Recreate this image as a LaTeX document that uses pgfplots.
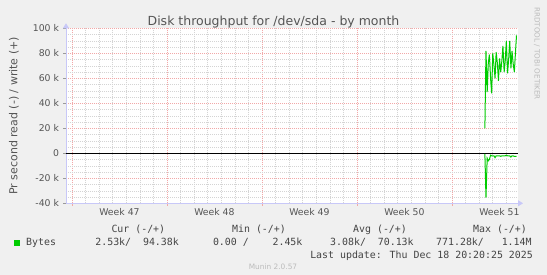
\documentclass[border=0pt]{standalone}
\usepackage{pgfplots}
\pgfplotsset{compat=1.18}
\usepackage{fontspec}
\setmainfont{DejaVu Sans}
\newfontfamily\mono{DejaVu Sans Mono}
\usetikzlibrary{arrows.meta}
\definecolor{bg}{HTML}{F0F0F0}
\definecolor{txt}{HTML}{555555}
\definecolor{ltxt}{HTML}{444444}
\definecolor{mgrid}{HTML}{F2A8A8}
\definecolor{mingrid}{HTML}{D4D4D4}
\definecolor{axiscol}{HTML}{C8C8F8}
\definecolor{munin}{HTML}{00CC00}
\definecolor{wm}{HTML}{BBBBBB}
\begin{document}
\begin{tikzpicture}[x=1pt,y=1pt]
\fill[bg] (0,0) rectangle (547,275);
\begin{axis}[
  at={(66pt,71.7pt)}, anchor=south west,
  scale only axis, width=452pt, height=175pt,
  xmin=-0.44, xmax=32.87, ymin=-40, ymax=100,
  axis background/.style={fill=white},
  axis x line=bottom, axis y line=left,
  axis line style={draw=axiscol, line width=0.8pt, shorten >=-5pt, -{Triangle[length=5pt,width=6pt]}},
  xtick={0,7,14,21,28}, xticklabels={},
  minor xtick={1,2,3,4,5,6,8,9,10,11,12,13,15,16,17,18,19,20,22,23,24,25,26,27,29,30,31,32},
  extra x ticks={3.5,10.5,17.5,24.5,31.5},
  extra x tick labels={Week 47,Week 48,Week 49,Week 50,Week 51},
  extra x tick style={grid=none, major tick length=0pt, xticklabel style={yshift=-2pt}},
  ytick={-40,-20,0,20,40,60,80,100},
  yticklabels={-40 k,-20 k,0,20 k,40 k,60 k,80 k,100 k},
  minor y tick num=3,
  grid=both,
  major grid style={draw=mgrid, dash pattern=on 1pt off 1pt, line width=0.5pt},
  minor grid style={draw=mingrid, dash pattern=on 1pt off 1pt, line width=0.5pt},
  tick align=outside, major tick length=2.5pt, minor tick length=0pt,
  xtick style={draw=mgrid, line width=0.6pt},
  ytick style={draw=txt!60, line width=0.6pt},
  tick label style={font=\fontsize{9.3}{10}\selectfont, text=txt},
  yticklabel style={xshift=-1pt},
  ylabel={Pr second read (-) / write (+)},
  ylabel style={font=\fontsize{11}{12}\selectfont, text=txt, at={(axis description cs:-0.115,0.5)}, anchor=center},
  no markers,
]
\addplot[draw=black, line width=1pt] coordinates {(-0.44,0) (32.87,0)};
\addplot[draw=munin, line width=1pt] coordinates {
(30.43,20) (30.51,82) (30.60,49) (30.68,72) (30.76,79) (30.85,60) (30.93,48)
(31.01,80) (31.10,70) (31.18,60) (31.26,81) (31.35,72) (31.43,58) (31.51,76)
(31.60,65) (31.68,74) (31.76,86) (31.85,65) (31.93,74) (32.01,90) (32.10,64)
(32.18,75) (32.26,90) (32.35,68) (32.43,82) (32.51,72) (32.60,65) (32.68,80)
(32.76,94.38)};
\addplot[draw=munin, line width=1pt] coordinates {
(30.43,-0.5) (30.51,-35.5) (30.60,-4) (30.68,-6) (30.76,-5) (30.85,-1.5) (30.93,-2)
(31.01,-2) (31.10,-2) (31.18,-3.5) (31.26,-2) (31.35,-2) (31.43,-2) (31.51,-2)
(31.60,-2.5) (31.68,-2) (31.76,-2) (31.85,-2) (31.93,-2) (32.01,-1.5) (32.10,-2)
(32.18,-2) (32.26,-2) (32.35,-3) (32.43,-2) (32.51,-2) (32.60,-2.5) (32.68,-2.5)
(32.76,-2.53)};
\end{axis}
\node[anchor=base, font=\fontsize{12.5}{14}\selectfont, text=txt] at (273.5,249) {Disk throughput for /dev/sda - by month};
\node[rotate=-90, anchor=center, font=\fontsize{7.2}{8}\selectfont, text=wm] at (537,221.5) {RRDTOOL / TOBI OETIKER};
\begin{scope}[every node/.style={inner sep=0pt, font=\mono\fontsize{9.9}{11}\selectfont, text=ltxt}]
\node[anchor=base west] at (111.3,42.7) {Cur~(-/+)};
\node[anchor=base west] at (232,42.7) {Min~(-/+)};
\node[anchor=base west] at (353,42.7) {Avg~(-/+)};
\node[anchor=base west] at (473,42.7) {Max~(-/+)};
\node[anchor=base west] at (14,29.2) {\textcolor{munin}{\rule{5.5pt}{5.5pt}}};
\node[anchor=base west] at (26,29.2) {Bytes};
\node[anchor=base west] at (95.2,29.2) {2.53k/~~94.38k};
\node[anchor=base west] at (212.8,29.2) {0.00~/~~~~2.45k};
\node[anchor=base west] at (330,29.2) {3.08k/~~70.13k};
\node[anchor=base west] at (436,29.2) {771.28k/~~~1.14M};
\node[anchor=base east] at (533,16.6) {Last update: Thu Dec 18 20:20:25 2025};
\end{scope}
\node[anchor=base, font=\fontsize{7.4}{8}\selectfont, text=wm] at (273,5) {Munin 2.0.57};
\pgfresetboundingbox
\useasboundingbox (0,0) rectangle (547,275);
\end{tikzpicture}
\end{document}
